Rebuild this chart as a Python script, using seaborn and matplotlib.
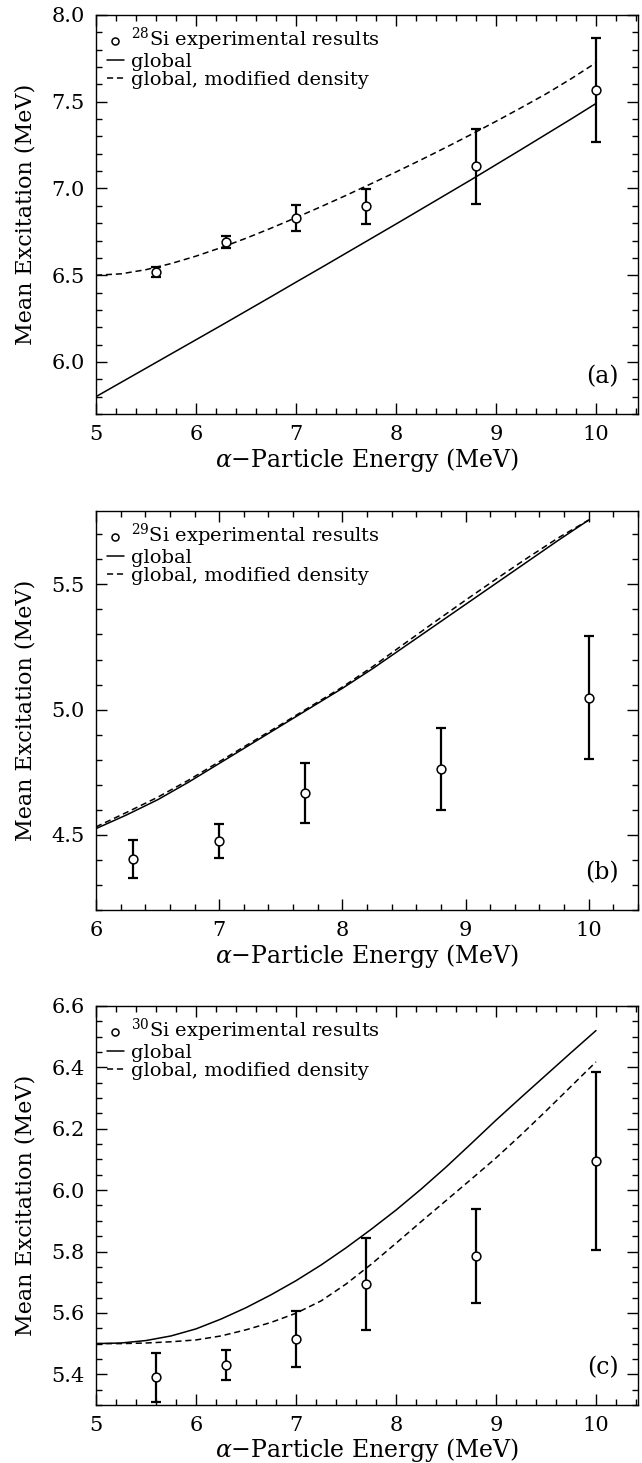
import numpy as np
import pandas as pd
import seaborn as sns
import matplotlib.pyplot as plt
from matplotlib.ticker import MultipleLocator

# model curve energies (MeV)
e_a = [5.0, 5.25, 5.5, 5.75, 6.0, 6.25, 6.5, 6.75, 7.0, 7.25, 7.5,
       7.75, 8.0, 8.25, 8.5, 8.75, 9.0, 9.25, 9.5, 9.75, 10.0]
e_b = [6.0, 6.25, 6.5, 6.75, 7.0, 7.25, 7.5, 7.75, 8.0,
       8.25, 8.5, 8.75, 9.0, 9.25, 9.5, 9.75, 10.0]
e_c = e_a

# 28Si
glob_a = [5.80, 5.882, 5.964, 6.046, 6.128, 6.21, 6.293, 6.376, 6.46, 6.543, 6.627,
          6.711, 6.795, 6.88, 6.965, 7.05, 7.137, 7.224, 7.312, 7.40, 7.49]
mod_a = [6.50, 6.508, 6.532, 6.567, 6.61, 6.659, 6.713, 6.771, 6.832, 6.895, 6.96,
         7.027, 7.095, 7.165, 7.237, 7.311, 7.387, 7.465, 7.545, 7.632, 7.725]
xe_a = [5.6, 6.3, 7.0, 7.7, 8.8, 10.0]
ye_a = [6.518, 6.69, 6.83, 6.897, 7.128, 7.569]
err_a = [0.03, 0.035, 0.075, 0.10, 0.215, 0.30]

# 29Si
glob_b = [4.525, 4.58, 4.64, 4.71, 4.785, 4.86, 4.935, 5.01, 5.085,
          5.165, 5.25, 5.335, 5.42, 5.505, 5.59, 5.675, 5.757]
mod_b = [4.532, 4.59, 4.65, 4.718, 4.792, 4.866, 4.94, 5.015, 5.09,
         5.173, 5.262, 5.35, 5.437, 5.522, 5.605, 5.685, 5.757]
xe_b = [6.3, 7.0, 7.7, 8.8, 10.0]
ye_b = [4.404, 4.475, 4.668, 4.762, 5.047]
err_b = [0.075, 0.068, 0.12, 0.163, 0.245]

# 30Si
glob_c = [5.50, 5.502, 5.51, 5.525, 5.548, 5.58, 5.617, 5.659, 5.705, 5.756, 5.812,
          5.872, 5.935, 6.003, 6.075, 6.151, 6.228, 6.302, 6.375, 6.448, 6.52]
mod_c = [5.50, 5.50, 5.502, 5.506, 5.512, 5.525, 5.545, 5.569, 5.599, 5.639, 5.694,
         5.758, 5.827, 5.897, 5.966, 6.035, 6.105, 6.18, 6.258, 6.338, 6.418]
xe_c = [5.6, 6.3, 7.0, 7.7, 8.8, 10.0]
ye_c = [5.39, 5.43, 5.515, 5.693, 5.786, 6.095]
err_c = [0.08, 0.05, 0.09, 0.15, 0.153, 0.29]

sns.set_style("ticks")
plt.rcParams['font.family'] = ['DejaVu Serif']
plt.rcParams['mathtext.fontset'] = 'dejavuserif'
plt.rcParams['text.color'] = 'black'
plt.rcParams['axes.labelcolor'] = 'black'
plt.rcParams['xtick.color'] = 'black'
plt.rcParams['ytick.color'] = 'black'

fig = plt.figure(figsize=(6.42, 14.63), dpi=100)

panels = [
    dict(e=e_a, g=glob_a, m=mod_a, xe=xe_a, ye=ye_a, err=err_a, iso="28",
         xlim=(5, 10.42), ylim=(5.70, 8.0), ymaj=0.5, ymin=0.1,
         tag="(a)", bottom=1 - 414 / 1463),
    dict(e=e_b, g=glob_b, m=mod_b, xe=xe_b, ye=ye_b, err=err_b, iso="29",
         xlim=(6, 10.4), ylim=(4.2, 5.793), ymaj=0.5, ymin=0.1,
         tag="(b)", bottom=1 - 910 / 1463),
    dict(e=e_c, g=glob_c, m=mod_c, xe=xe_c, ye=ye_c, err=err_c, iso="30",
         xlim=(5, 10.42), ylim=(5.3, 6.6), ymaj=0.2, ymin=0.05,
         tag="(c)", bottom=1 - 1405 / 1463),
]

for p in panels:
    ax = fig.add_axes([96 / 642, p["bottom"], 542 / 642, 399 / 1463])
    curves = pd.DataFrame({"E": p["e"], "glob": p["g"], "mod": p["m"]})
    pts = pd.DataFrame({"E": p["xe"], "Ex": p["ye"], "err": p["err"]})

    ax.errorbar(pts["E"], pts["Ex"], yerr=pts["err"], fmt="none", ecolor="black",
                elinewidth=1.6, capsize=3.3, capthick=1.6, zorder=2)
    sns.scatterplot(data=pts, x="E", y="Ex", ax=ax, marker="o", s=40,
                    facecolor="white", edgecolor="black", linewidth=1.1, zorder=3,
                    label=r"$^{%s}$Si experimental results" % p["iso"])
    sns.lineplot(data=curves, x="E", y="glob", ax=ax, color="black", lw=1.1,
                 label="global")
    sns.lineplot(data=curves, x="E", y="mod", ax=ax, color="black", lw=1.1,
                 linestyle=(0, (4, 2.5)), label="global, modified density")

    ax.set_xlim(*p["xlim"])
    ax.set_ylim(*p["ylim"])
    ax.xaxis.set_major_locator(MultipleLocator(1))
    ax.xaxis.set_minor_locator(MultipleLocator(0.2))
    ax.yaxis.set_major_locator(MultipleLocator(p["ymaj"]))
    ax.yaxis.set_minor_locator(MultipleLocator(p["ymin"]))
    ax.yaxis.set_major_formatter(plt.FormatStrFormatter("%.1f"))
    ax.tick_params(which="both", direction="in", top=True, right=True,
                   labelsize=15, width=1, color="black", labelcolor="black", pad=8)
    ax.tick_params(which="major", length=8)
    ax.tick_params(which="minor", length=4)
    for s in ax.spines.values():
        s.set_linewidth(1)
        s.set_color("black")

    ax.set_xlabel(r"$\alpha$$-$Particle Energy (MeV)", fontsize=17, labelpad=1)
    ax.set_ylabel("Mean Excitation (MeV)", fontsize=16, labelpad=11)
    ax.text(0.965, 0.065, p["tag"], transform=ax.transAxes, ha="right",
            va="bottom", fontsize=17)

    ax.legend(loc="upper left", frameon=False, fontsize=14, labelcolor="black",
              handlelength=0.9, handletextpad=0.35, labelspacing=0.0,
              borderaxespad=0.3, borderpad=0.25, markerscale=0.8)

fig.savefig("out.png", dpi=100)
